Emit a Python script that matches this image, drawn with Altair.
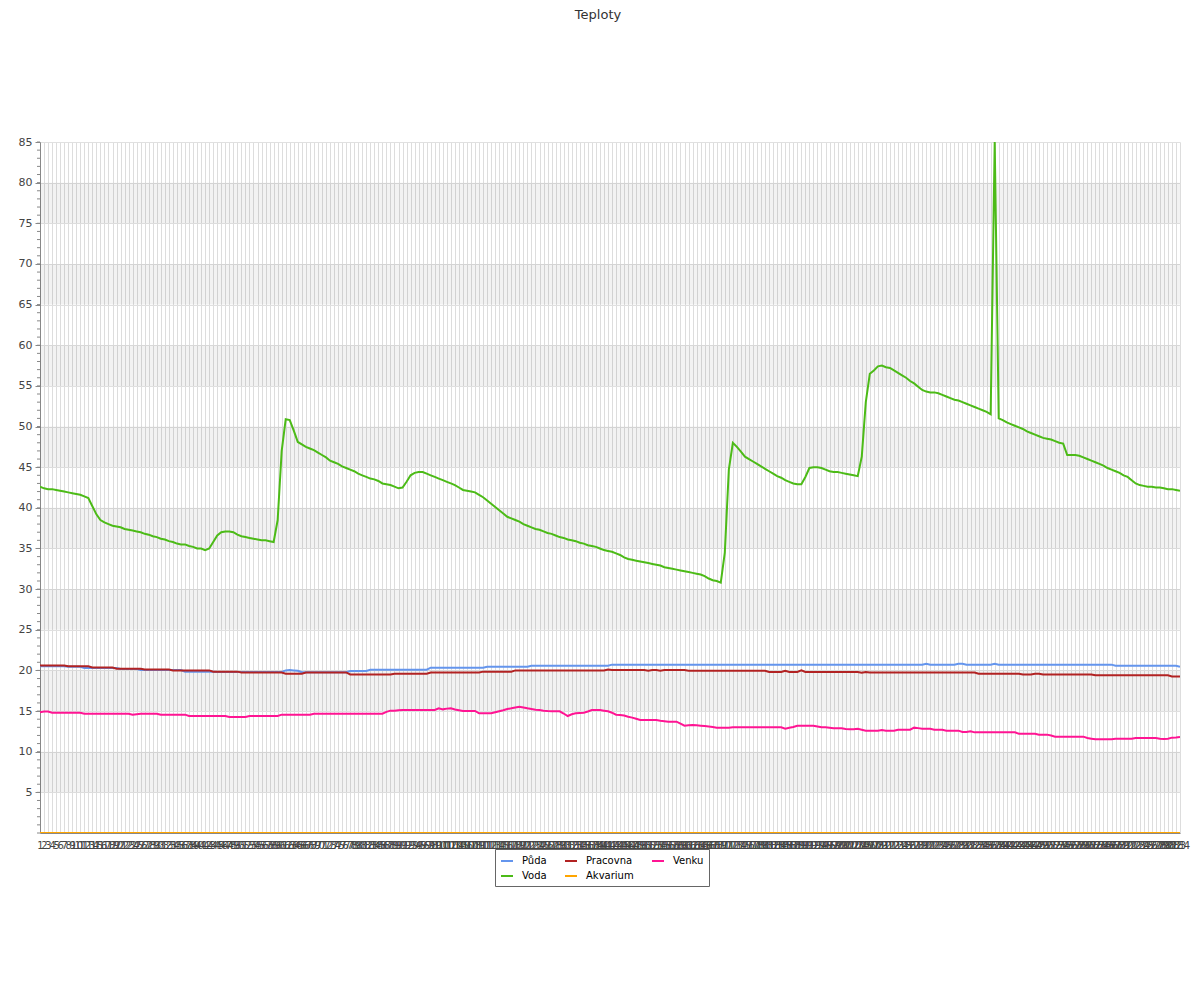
import altair as alt
import pandas as pd

# ---------------- data ----------------
series_names = ["Půda", "Voda", "Pracovna", "Akvarium", "Venku"]
series_colors = ["#6495ED", "#4CBB17", "#B22222", "#FFA500", "#FF1493"]
title_text = "Teploty"

voda = [
    42.6, 42.4, 42.3, 42.3, 42.2, 42.1, 42.0, 41.9, 41.8, 41.7, 41.6, 41.4, 41.2,
    40.2, 39.2, 38.5, 38.2,
    38.0, 37.8, 37.7, 37.6,
    37.4, 37.3, 37.2, 37.1, 37.0, 36.8, 36.7,
    36.5, 36.4, 36.2, 36.1, 35.9, 35.8, 35.6, 35.5,
    35.5, 35.3, 35.2, 35.0, 35.0, 34.8,
    35.0, 35.8, 36.6, 37.0, 37.1, 37.1, 37.0, 36.7, 36.5,
    36.4, 36.3, 36.2, 36.1, 36.0, 36.0, 35.9,
    35.8, 38.5, 47.0, 50.9, 50.8, 49.5, 48.1, 47.8, 47.5, 47.3,
    47.1, 46.8, 46.5, 46.2, 45.8,
    45.6, 45.4, 45.1, 44.9, 44.7, 44.5, 44.2,
    44.0, 43.8, 43.6, 43.5, 43.3, 43.0,
    42.9, 42.8, 42.6, 42.4,
    42.5, 43.2, 44.0, 44.3, 44.4, 44.4, 44.2,
    44.0, 43.8, 43.6, 43.4,
    43.2, 43.0, 42.8, 42.5, 42.2,
    42.1, 42.0, 41.9,
    41.6, 41.3, 40.9, 40.5, 40.1, 39.7, 39.3, 38.9,
    38.7, 38.5, 38.3, 38.0, 37.8, 37.6, 37.4,
    37.3, 37.1, 36.9, 36.8, 36.6, 36.4, 36.3,
    36.1, 36.0, 35.9, 35.7, 35.6, 35.4,
    35.3, 35.2, 35.0, 34.8, 34.7,
    34.6, 34.4, 34.2, 33.9, 33.7,
    33.6, 33.5, 33.4, 33.3, 33.2, 33.1, 33.0, 32.9, 32.7, 32.6, 32.5,
    32.4, 32.3, 32.2, 32.1, 32.0, 31.9, 31.8,
    31.6, 31.3, 31.1, 31.0, 30.8,
    34.5, 44.7, 48.0, 47.5, 46.9, 46.3,
    46.0, 45.7, 45.4, 45.1, 44.8, 44.5, 44.2,
    43.9, 43.7, 43.4, 43.2, 43.0, 42.9, 42.9,
    43.8, 44.9, 45.0, 45.0, 44.9,
    44.7, 44.5, 44.4, 44.4, 44.3, 44.2, 44.1, 44.0, 43.9,
    46.3, 53.0, 56.5, 56.9, 57.4, 57.5, 57.3, 57.2, 56.9,
    56.6, 56.3, 56.0, 55.6, 55.3, 54.9, 54.5,
    54.3, 54.2, 54.2, 54.1, 53.9, 53.7, 53.5, 53.3,
    53.2, 53.0, 52.8, 52.6, 52.4, 52.2, 52.0, 51.8, 51.5,
    85.0,
    51.0, 50.8, 50.5, 50.3, 50.1, 49.9, 49.7, 49.4,
    49.2, 49.0, 48.8, 48.6, 48.5, 48.4, 48.2, 48.0, 47.9,
    46.5, 46.5, 46.5, 46.4,
    46.2, 46.0, 45.8, 45.6,
    45.4, 45.2, 44.9, 44.7, 44.5, 44.3, 44.0,
    43.8, 43.4, 43.0, 42.8,
    42.7, 42.6, 42.6, 42.5, 42.5, 42.4, 42.3, 42.3, 42.2, 42.1,
]

pracovna = [
    20.6, 20.6, 20.6, 20.6, 20.6, 20.6, 20.6,
    20.5, 20.5, 20.5, 20.5, 20.5, 20.5,
    20.35, 20.35, 20.35, 20.35, 20.35, 20.35,
    20.2, 20.2, 20.2, 20.2, 20.2, 20.2, 20.2,
    20.1, 20.1, 20.1, 20.1, 20.1, 20.1, 20.1,
    20.0, 20.0, 20.0, 20.0, 20.0, 20.0, 20.0, 20.0, 20.0, 20.0,
    19.85, 19.85, 19.85, 19.85, 19.85, 19.85, 19.85,
    19.75, 19.75, 19.75, 19.75, 19.75, 19.75, 19.75, 19.75, 19.75, 19.75, 19.75,
    19.6, 19.6, 19.6, 19.6, 19.6,
    19.75, 19.75, 19.75, 19.75, 19.75, 19.75, 19.75, 19.75, 19.75, 19.75, 19.75,
    19.5, 19.5, 19.5, 19.5, 19.5, 19.5, 19.5, 19.5, 19.5, 19.5, 19.5,
    19.6, 19.6, 19.6, 19.6, 19.6, 19.6, 19.6, 19.6, 19.6,
    19.75, 19.75, 19.75, 19.75, 19.75, 19.75, 19.75, 19.75, 19.75, 19.75, 19.75, 19.75, 19.75,
    19.85, 19.85, 19.85, 19.85, 19.85, 19.85, 19.85, 19.85,
    20.0, 20.0, 20.0, 20.0, 20.0, 20.0, 20.0, 20.0, 20.0, 20.0, 20.0, 20.0,
    20.0, 20.0, 20.0, 20.0, 20.0, 20.0, 20.0, 20.0, 20.0, 20.0, 20.0,
    20.1, 20.05, 20.05, 20.05, 20.05, 20.05, 20.05, 20.05, 20.05, 20.05,
    19.97, 20.05, 20.05, 19.97, 20.05, 20.05, 20.05, 20.05, 20.05, 20.05,
    19.95, 19.95, 19.95, 19.95, 19.95, 19.95, 19.95, 19.95, 19.95, 19.95,
    19.95, 19.95, 19.95, 19.95, 19.95, 19.95, 19.95, 19.95, 19.95, 19.95,
    19.8, 19.8, 19.8, 19.8, 19.95, 19.8, 19.8, 19.8,
    20.0,
    19.8, 19.8, 19.8, 19.8, 19.8, 19.8, 19.8, 19.8, 19.8, 19.8, 19.8, 19.8, 19.8, 19.8,
    19.7, 19.8,
    19.75, 19.75, 19.75, 19.75, 19.75, 19.75, 19.75, 19.75, 19.75, 19.75, 19.75, 19.75, 19.75, 19.75,
    19.75, 19.75, 19.75, 19.75, 19.75, 19.75, 19.75, 19.75, 19.75, 19.75, 19.75, 19.75, 19.75,
    19.6, 19.6, 19.6, 19.6, 19.6, 19.6, 19.6, 19.6, 19.6, 19.6, 19.6,
    19.5, 19.5, 19.5,
    19.6, 19.6,
    19.5, 19.5, 19.5, 19.5, 19.5, 19.5, 19.5, 19.5, 19.5, 19.5, 19.5, 19.5, 19.5,
    19.4, 19.4, 19.4, 19.4, 19.4, 19.4, 19.4, 19.4, 19.4, 19.4,
    19.4, 19.4, 19.4, 19.4, 19.4, 19.4, 19.4, 19.4, 19.4,
    19.25, 19.25, 19.25,
]

puda = [
    20.5, 20.5, 20.5, 20.5, 20.5, 20.5, 20.5,
    20.45, 20.45, 20.45, 20.45,
    20.3, 20.3, 20.3, 20.3, 20.3, 20.3, 20.3, 20.3, 20.3,
    20.18, 20.18, 20.18, 20.18, 20.18,
    20.05, 20.05, 20.05, 20.05, 20.05, 20.05, 20.05, 20.05, 20.05, 20.05, 20.05,
    19.85, 19.85, 19.85, 19.85, 19.85, 19.85, 19.85, 19.85,
    19.8, 19.8, 19.8, 19.8, 19.8, 19.8, 19.8, 19.8, 19.8, 19.8, 19.8, 19.8, 19.8, 19.8, 19.8, 19.8, 19.8,
    20.0, 20.05, 20.0, 19.95,
    19.77, 19.77, 19.77, 19.77, 19.77, 19.77, 19.77, 19.77, 19.77, 19.77, 19.77, 19.77,
    19.93, 19.93, 19.93, 19.93, 19.93,
    20.09, 20.09, 20.09, 20.09, 20.09, 20.09, 20.09, 20.09, 20.09, 20.09, 20.09, 20.09, 20.09, 20.09, 20.09,
    20.34, 20.34, 20.34, 20.34, 20.34, 20.34, 20.34, 20.34, 20.34, 20.34, 20.34, 20.34, 20.34, 20.34,
    20.46, 20.46, 20.46, 20.46, 20.46, 20.46, 20.46, 20.46, 20.46, 20.46, 20.46,
    20.58, 20.58, 20.58, 20.58, 20.58, 20.58, 20.58, 20.58, 20.58, 20.58,
    20.58, 20.58, 20.58, 20.58, 20.58, 20.58, 20.58, 20.58, 20.58, 20.58,
    20.71, 20.71, 20.71, 20.71, 20.71, 20.71, 20.71, 20.71, 20.71, 20.71, 20.71, 20.71, 20.71,
    20.71, 20.71, 20.71, 20.71, 20.71, 20.71, 20.71, 20.71, 20.71, 20.71, 20.71, 20.71, 20.71,
    20.71, 20.71, 20.71, 20.71, 20.71, 20.71, 20.71, 20.71, 20.71, 20.71, 20.71, 20.71, 20.71,
    20.71, 20.71, 20.71, 20.71, 20.71, 20.71, 20.71, 20.71, 20.71, 20.71, 20.71, 20.71, 20.71,
    20.71, 20.71, 20.71, 20.71, 20.71, 20.71, 20.71, 20.71, 20.71, 20.71, 20.71, 20.71, 20.71,
    20.71, 20.71, 20.71, 20.71, 20.71, 20.71, 20.71, 20.71, 20.71, 20.71, 20.71, 20.71, 20.71,
    20.83,
    20.71, 20.71, 20.71, 20.71, 20.71, 20.71, 20.71,
    20.83, 20.83,
    20.71, 20.71, 20.71, 20.71, 20.71, 20.71, 20.71,
    20.83,
    20.71, 20.71, 20.71, 20.71, 20.71, 20.71, 20.71, 20.71, 20.71, 20.71,
    20.71, 20.71, 20.71, 20.71, 20.71, 20.71, 20.71, 20.71, 20.71, 20.71,
    20.71, 20.71, 20.71, 20.71, 20.71, 20.71, 20.71, 20.71, 20.71,
    20.58, 20.58, 20.58, 20.58, 20.58, 20.58, 20.58, 20.58,
    20.58, 20.58, 20.58, 20.58, 20.58, 20.58, 20.58, 20.58,
    20.46,
]

venku = [
    14.85, 14.95, 14.95,
    14.8, 14.8, 14.8, 14.8, 14.8, 14.8, 14.8, 14.8,
    14.68, 14.68, 14.68, 14.68, 14.68, 14.68, 14.68, 14.68, 14.68, 14.68, 14.68, 14.68,
    14.56, 14.62,
    14.68, 14.68, 14.68, 14.68, 14.68,
    14.56, 14.56, 14.56, 14.56, 14.56, 14.56, 14.56,
    14.4, 14.4, 14.4, 14.4, 14.4, 14.4, 14.4, 14.4, 14.4, 14.4,
    14.27, 14.27, 14.27, 14.27, 14.27,
    14.4, 14.4, 14.4, 14.4, 14.4, 14.4, 14.4, 14.4,
    14.56, 14.56, 14.56, 14.56, 14.56, 14.56, 14.56, 14.56,
    14.68, 14.68, 14.68, 14.68, 14.68, 14.68, 14.68, 14.68, 14.68,
    14.68, 14.68, 14.68, 14.68, 14.68, 14.68, 14.68, 14.68, 14.68,
    14.9, 15.05, 15.05, 15.1,
    15.13, 15.13, 15.13, 15.13, 15.13, 15.13, 15.13, 15.13, 15.13,
    15.34, 15.21, 15.3, 15.34, 15.2, 15.1,
    15.01, 15.01, 15.01, 15.01,
    14.72, 14.72, 14.72, 14.72,
    14.85, 14.97, 15.1, 15.25,
    15.34, 15.45, 15.54, 15.45,
    15.34, 15.25, 15.15, 15.13, 15.05, 15.0,
    14.97, 14.97, 14.97,
    14.7, 14.39, 14.6, 14.72, 14.76, 14.8,
    14.95,
    15.13, 15.13, 15.13,
    15.05, 14.97, 14.8, 14.55, 14.52, 14.45,
    14.3, 14.19, 14.05,
    13.9, 13.9, 13.9, 13.9, 13.9,
    13.8, 13.75,
    13.7, 13.7, 13.7,
    13.45, 13.2, 13.25, 13.29, 13.25, 13.2,
    13.16, 13.1, 13.05,
    12.96, 12.96, 12.96, 12.96,
    13.0, 13.0, 13.0, 13.0, 13.0, 13.0, 13.0, 13.0, 13.0, 13.0, 13.0, 13.0, 13.0,
    12.83, 12.95, 13.05, 13.2, 13.2,
    13.2, 13.2, 13.2,
    13.1, 13.0, 13.0, 12.95,
    12.88, 12.88, 12.88,
    12.8, 12.75, 12.75, 12.82, 12.7,
    12.59, 12.59, 12.59, 12.59,
    12.67,
    12.59, 12.59, 12.59,
    12.71, 12.71, 12.71, 12.71,
    12.96, 12.9,
    12.83, 12.83, 12.83,
    12.71, 12.71, 12.71,
    12.59, 12.59, 12.59, 12.59,
    12.42, 12.42,
    12.51,
    12.38, 12.38, 12.38, 12.38, 12.38, 12.38, 12.38, 12.38, 12.38, 12.38, 12.38,
    12.22, 12.22, 12.22, 12.22, 12.22,
    12.1, 12.1, 12.1,
    12.0,
    11.85, 11.85, 11.85, 11.85, 11.85, 11.85, 11.85, 11.85,
    11.69, 11.6,
    11.52, 11.52, 11.52, 11.52, 11.52,
    11.6, 11.6, 11.6, 11.6, 11.6,
    11.69, 11.69, 11.69, 11.69, 11.69, 11.69,
    11.6, 11.56, 11.6, 11.73, 11.76, 11.81,
]

akvarium = [
    0, 0, 0, 0, 0, 0, 0, 0, 0, 0, 0, 0, 0, 0, 0, 0, 0, 0, 0, 0,
    0, 0, 0, 0, 0, 0, 0, 0, 0, 0, 0, 0, 0, 0, 0, 0, 0, 0, 0, 0,
    0, 0, 0, 0, 0, 0, 0, 0, 0, 0, 0, 0, 0, 0, 0, 0, 0, 0, 0, 0,
    0, 0, 0, 0, 0, 0, 0, 0, 0, 0, 0, 0, 0, 0, 0, 0, 0, 0, 0, 0,
    0, 0, 0, 0, 0, 0, 0, 0, 0, 0, 0, 0, 0, 0, 0, 0, 0, 0, 0, 0,
    0, 0, 0, 0, 0, 0, 0, 0, 0, 0, 0, 0, 0, 0, 0, 0, 0, 0, 0, 0,
    0, 0, 0, 0, 0, 0, 0, 0, 0, 0, 0, 0, 0, 0, 0, 0, 0, 0, 0, 0,
    0, 0, 0, 0, 0, 0, 0, 0, 0, 0, 0, 0, 0, 0, 0, 0, 0, 0, 0, 0,
    0, 0, 0, 0, 0, 0, 0, 0, 0, 0, 0, 0, 0, 0, 0, 0, 0, 0, 0, 0,
    0, 0, 0, 0, 0, 0, 0, 0, 0, 0, 0, 0, 0, 0, 0, 0, 0, 0, 0, 0,
    0, 0, 0, 0, 0, 0, 0, 0, 0, 0, 0, 0, 0, 0, 0, 0, 0, 0, 0, 0,
    0, 0, 0, 0, 0, 0, 0, 0, 0, 0, 0, 0, 0, 0, 0, 0, 0, 0, 0, 0,
    0, 0, 0, 0, 0, 0, 0, 0, 0, 0, 0, 0, 0, 0, 0, 0, 0, 0, 0, 0,
    0, 0, 0, 0, 0, 0, 0, 0, 0, 0, 0, 0, 0, 0, 0, 0, 0, 0, 0, 0,
    0, 0, 0, 0,
]

y_major_ticks = [5, 10, 15, 20, 25, 30, 35, 40, 45, 50, 55, 60, 65, 70, 75, 80, 85]
y_minor_ticks = list(range(0, 86))
band_lo = [5, 15, 25, 35, 45, 55, 65, 75]
band_hi = [10, 20, 30, 40, 50, 60, 70, 80]

# ---------------- build tables ----------------
rows = []
for name, vals in [("Akvarium", akvarium), ("Venku", venku), ("Půda", puda),
                   ("Pracovna", pracovna), ("Voda", voda)]:
    for k, v in enumerate(vals):
        rows.append({"i": k + 1, "serie": name, "value": v, "ord": k})
df = pd.DataFrame(rows)

bands = pd.DataFrame({"lo": band_lo, "hi": band_hi})
minor = pd.DataFrame({"v": y_minor_ticks})
title_df = pd.DataFrame({"t": [title_text]})

W, H = 1140, 691
FONT = "DejaVu Sans"

yscale = alt.Scale(domain=[0, 85], nice=False, zero=True)
y_axis = alt.Axis(values=y_major_ticks, title=None, grid=True, gridColor="#e0e0e0",
                  domainColor="#888", tickColor="#888", tickSize=5,
                  labelColor="#444", labelFont=FONT, labelFontSize=11, labelPadding=3)

band_layer = alt.Chart(bands).mark_rect(color="#000", opacity=0.05).encode(
    y=alt.Y("lo:Q", scale=yscale, axis=y_axis),
    y2="hi:Q",
    x=alt.value(0),
    x2=alt.value(W),
)

minor_layer = alt.Chart(minor).mark_rule(color="#888", strokeWidth=1).encode(
    y=alt.Y("v:Q", scale=yscale, axis=y_axis),
    x=alt.value(-3),
    x2=alt.value(0),
)

lines = alt.Chart(df).mark_line(strokeWidth=2, clip=True).encode(
    x=alt.X("i:O", scale=alt.Scale(type="point", padding=0),
            axis=alt.Axis(title=None, labelAngle=0, labelOverlap=False, ticks=False,
                          grid=True, gridColor="#dddddd", domainColor="#888",
                          labelColor="#444", labelFont=FONT, labelFontSize=10,
                          labelPadding=7)),
    y=alt.Y("value:Q", scale=yscale, axis=y_axis),
    color=alt.Color("serie:N",
                    scale=alt.Scale(domain=series_names, range=series_colors),
                    legend=alt.Legend(title=None, orient="none", legendX=455, legendY=707,
                                      columns=3, direction="vertical",
                                      symbolType="stroke", symbolStrokeWidth=2,
                                      symbolSize=144, labelFont=FONT, labelFontSize=10,
                                      labelColor="#000", strokeColor="#666", fillColor="#fff",
                                      padding=5, columnPadding=14, rowPadding=3,
                                      labelOffset=8)),
    order=alt.Order("ord:Q"),
)

title_layer = alt.Chart(title_df).mark_text(font=FONT, fontSize=13, color="#333",
                                            align="center", baseline="middle").encode(
    text="t:N",
    x=alt.value(558),
    y=alt.value(-127),
)

chart = alt.layer(band_layer, minor_layer, lines, title_layer).properties(
    width=W, height=H,
    autosize=alt.AutoSizeParams(type="none"),
    padding={"left": 32, "top": 134, "right": 12, "bottom": 150},
).configure_view(stroke=None)

chart.save("out.html", embed_options={"renderer": "svg", "actions": False})
